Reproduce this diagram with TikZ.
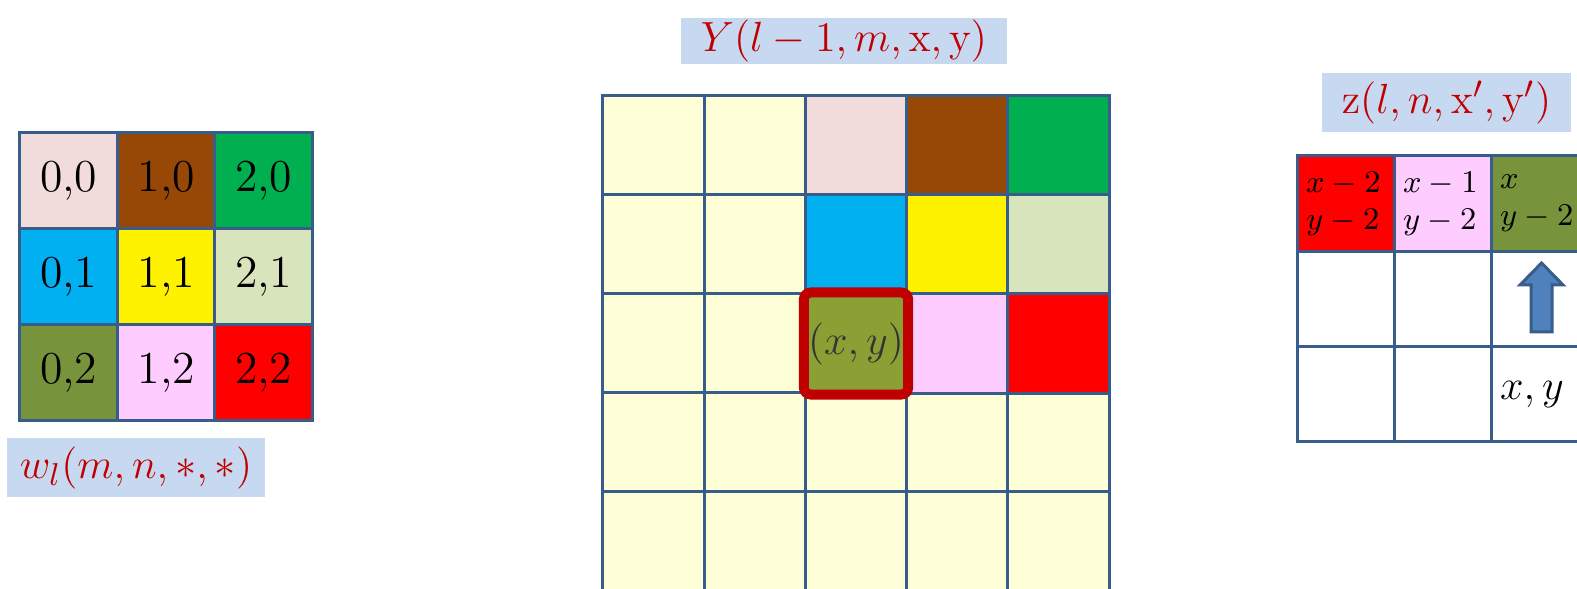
\documentclass[tikz,border=0pt]{standalone}
\usepackage{tikz}
\usetikzlibrary{positioning, calc}

\definecolor{gridline}{HTML}{385D8A}
\definecolor{labelbg}{HTML}{C6D9F1}
\definecolor{darkred}{HTML}{C00000}
\definecolor{rosy}{HTML}{F2DCDB}
\definecolor{brownish}{HTML}{974807}
\definecolor{grassgreen}{HTML}{00B050}
\definecolor{skyblue}{HTML}{00B0F0}
\definecolor{sage}{HTML}{D8E4BC}
\definecolor{oliveg}{HTML}{77933C}
\definecolor{olivelight}{HTML}{8AA034}
\definecolor{lightpink}{HTML}{FFCCFF}
\definecolor{cream}{HTML}{FFFFD7}
\definecolor{arrowblue}{HTML}{4F81BD}

\begin{document}
\begin{tikzpicture}[
    x=0.01cm, y=-0.01cm,
    cell/.style={rectangle, draw=gridline, line width=0.03cm, inner sep=0pt, font=\fontsize{13}{15}\selectfont},
    wcell/.style={cell, minimum width=0.975cm, minimum height=0.957cm},
    ycell/.style={cell, minimum width=1.012cm, minimum height=0.99cm},
    zcell/.style={cell, minimum width=0.97cm, minimum height=0.953cm},
    label/.style={rectangle, fill=labelbg, text=darkred, inner sep=0pt, font=\fontsize{13}{15}\selectfont},
    cellnote/.style={align=left, inner sep=0pt, font=\fontsize{9}{10.5}\selectfont},
    focus/.style={draw=darkred, line width=0.1cm, rounded corners=2pt},
    uparrow/.style={draw=gridline, fill=arrowblue, line width=0.03cm, line join=miter}
]
\useasboundingbox (0,0) rectangle (1577,589);

% kernel w_l
\foreach \i/\j/\c in {0/0/rosy, 1/0/brownish, 2/0/grassgreen,
                      0/1/skyblue, 1/1/yellow, 2/1/sage,
                      0/2/oliveg, 1/2/lightpink, 2/2/red}
  \node [wcell, fill=\c] (w\i\j) at (68.75+97.5*\i, 180.85+95.7*\j) {\i,\j};
\node [label, minimum width=2.58cm, minimum height=0.59cm] (wlabel) at (136,467.5) {$w_l(m,n,{*},{*})$};

% input Y
\foreach \i in {0,1}
  \foreach \j in {0,...,4}
    \node [ycell, fill=cream] (y\i\j) at (653.6+101.2*\i, 145.5+99*\j) {};
\foreach \i in {2,3,4}
  \foreach \j in {3,4}
    \node [ycell, fill=cream] (y\i\j) at (653.6+101.2*\i, 145.5+99*\j) {};
\foreach \i/\j/\c in {2/0/rosy, 3/0/brownish, 4/0/grassgreen,
                      2/1/skyblue, 3/1/yellow, 4/1/sage,
                      3/2/lightpink, 4/2/red}
  \node [ycell, fill=\c] (y\i\j) at (653.6+101.2*\i, 145.5+99*\j) {};
\node [ycell, fill=olivelight, text=black!80] (y22) at (653.6+101.2*2, 145.5+99*2) {$(x,y)$};
\draw [focus] (y22.north west) rectangle (y22.south east);
\node [label, minimum width=3.26cm, minimum height=0.45cm] (ylabel) at (844,41) {$Y(l-1,m,\mathrm{x},\mathrm{y})$};

% output z
\foreach \i/\c in {0/red, 1/lightpink, 2/oliveg}
  \node [zcell, fill=\c] (z\i0) at (1345.5+97*\i, 203.65) {};
\foreach \i in {0,1,2}
  \foreach \j in {1,2}
    \node [zcell, fill=white] (z\i\j) at (1345.5+97*\i, 203.65+95.3*\j) {};
\node [cellnote, right=0.1cm of z00.west] (n00) {$x-2$\\$y-2$};
\node [cellnote, right=0.1cm of z10.west] (n10) {$x-1$\\$y-2$};
\node [cellnote, right=0.1cm of z20.west] (n20) {$x$\\$y-2$};
\node [cellnote, font=\fontsize{13}{15}\selectfont, right=0.1cm of z22.west] (n22) {$x,y$};
\draw [uparrow] (1531,332) -- (1531,285) -- (1520,285) -- (1541.5,263)
    -- (1563,285) -- (1552,285) -- (1552,332) -- cycle;
\node [label, minimum width=2.49cm, minimum height=0.59cm] (zlabel) at (1446.5,102.5) {$\mathrm{z}(l,n,\mathrm{x}',\mathrm{y}')$};
\end{tikzpicture}
\end{document}
